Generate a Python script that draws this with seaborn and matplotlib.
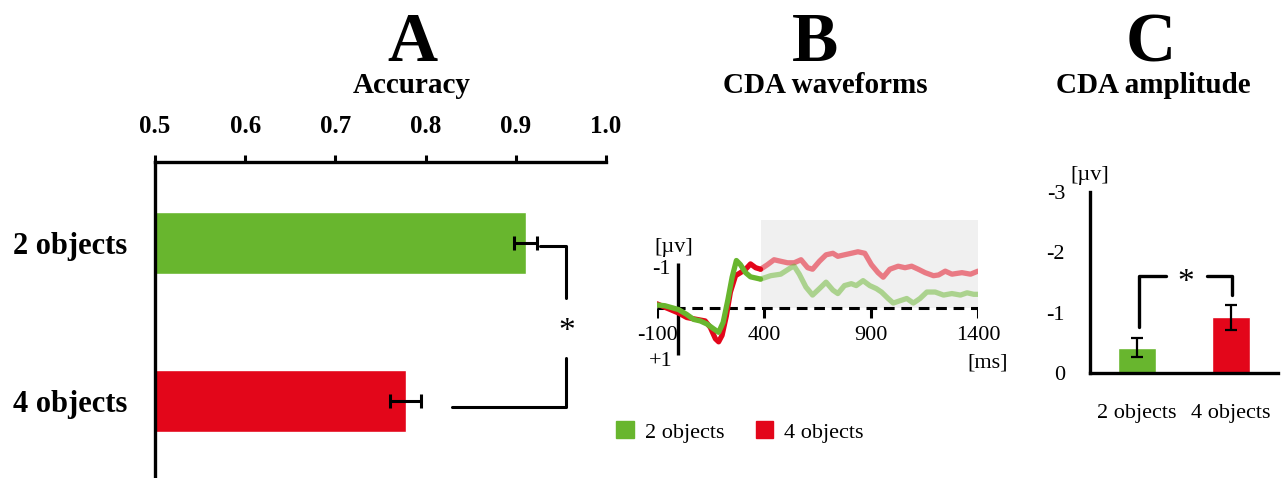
import matplotlib
matplotlib.use("Agg")
import matplotlib.pyplot as plt
import seaborn as sns
import pandas as pd
from matplotlib.patches import Patch

# --- datos ---
condiciones = ["2 objects", "4 objects"]
colores = ["#68b62e", "#e3061a"]

precision = [0.911, 0.778]
precision_err = [0.013, 0.017]
ticks_precision = [0.5, 0.6, 0.7, 0.8, 0.9, 1.0]

amplitud_cda = [-0.42, -0.92]
amplitud_err = [0.16, 0.20]
ticks_amplitud = [0, -1, -2, -3]

tiempo_2 = [-100, -63, 0, 39, 71, 102, 133, 165, 188, 209, 231, 251, 271, 290, 314, 337,
            384, 431, 478, 525, 541, 565, 596, 627, 659, 690, 722, 745, 776, 808, 831,
            863, 894, 925, 949, 980, 1004, 1035, 1067, 1098, 1129, 1161, 1200, 1239,
            1278, 1318, 1349, 1380, 1400]
onda_2 = [-0.08, -0.06, 0.04, 0.17, 0.30, 0.34, 0.42, 0.55, 0.64, 0.38, -0.21, -0.81,
          -1.25, -1.14, -0.93, -0.82, -0.76, -0.85, -0.89, -1.06, -1.10, -0.89, -0.55,
          -0.34, -0.51, -0.68, -0.47, -0.38, -0.59, -0.64, -0.59, -0.72, -0.59, -0.51,
          -0.42, -0.25, -0.13, -0.19, -0.25, -0.13, -0.25, -0.42, -0.42, -0.34, -0.38,
          -0.34, -0.40, -0.36, -0.36]
tiempo_4 = [-100, -55, 0, 39, 86, 125, 149, 173, 188, 204, 224, 243, 267, 290, 314, 337,
            361, 384, 416, 447, 478, 510, 541, 573, 604, 627, 659, 690, 722, 745, 776,
            808, 839, 871, 902, 933, 957, 988, 1027, 1059, 1090, 1121, 1153, 1192, 1216,
            1247, 1278, 1325, 1365, 1400]
onda_4 = [-0.11, 0.00, 0.13, 0.25, 0.30, 0.34, 0.51, 0.81, 0.89, 0.72, 0.21, -0.42,
          -0.85, -0.93, -1.02, -1.16, -1.06, -1.02, -1.14, -1.27, -1.23, -1.19, -1.19,
          -1.27, -1.06, -1.02, -1.23, -1.40, -1.44, -1.36, -1.40, -1.44, -1.48, -1.44,
          -1.14, -0.93, -0.81, -1.02, -1.10, -1.06, -1.10, -1.02, -0.93, -0.85, -0.87,
          -0.97, -0.89, -0.93, -0.89, -0.97]
ventana_cda = (384, 1400)
ticks_ms = [-100, 400, 900, 1400]

sns.set_style("white")
plt.rcParams["font.family"] = ["Liberation Serif", "DejaVu Serif"]
plt.rcParams["axes.unicode_minus"] = False
for clave in ["text.color", "axes.labelcolor", "xtick.color", "ytick.color"]:
    plt.rcParams[clave] = "black"

W, H = 1283, 478
fig = plt.figure(figsize=(W / 100, H / 100), dpi=100)


def caja(x0, y0, x1, y1):
    # pixeles de la imagen -> fracciones de la figura
    return [x0 / W, 1 - y1 / H, (x1 - x0) / W, (y1 - y0) / H]


def graficar_precision(ax):
    sns.barplot(x=precision, y=condiciones, hue=condiciones, palette=colores,
                orient="h", width=0.39, saturation=1, legend=False, ax=ax)
    ax.errorbar(precision, range(len(condiciones)), xerr=precision_err, fmt="none",
                ecolor="black", elinewidth=2.2, capsize=5, capthick=2.2)
    ax.set_xlim(0.5, 1.0)
    ax.set_ylim(1.487, -0.513)
    ax.xaxis.tick_top()
    ax.set_xticks(ticks_precision)
    ax.set_xticklabels([f"{t:.1f}" for t in ticks_precision])
    ax.set_xlabel("")
    ax.set_ylabel("")
    for lado in ["bottom", "right"]:
        ax.spines[lado].set_visible(False)
    for lado in ["top", "left"]:
        ax.spines[lado].set_linewidth(2.4)
        ax.spines[lado].set_color("black")
    ax.tick_params(axis="x", direction="out", length=5, width=2.2, pad=12, labelsize=18)
    ax.tick_params(axis="y", direction="out", length=7, width=2.2, pad=13, labelsize=22)
    for etiqueta in ax.get_xticklabels() + ax.get_yticklabels():
        etiqueta.set_fontweight("bold")

    # corchete de significancia
    ax.plot([0.927, 0.956, 0.956], [0.02, 0.02, 0.35], color="black", lw=2.2)
    ax.plot([0.956, 0.956, 0.829], [0.73, 1.04, 1.04], color="black", lw=2.2)
    ax.text(0.956, 0.56, "*", ha="center", va="center", fontsize=24)


def graficar_ondas(ax):
    datos = pd.concat([
        pd.DataFrame({"tiempo": tiempo_2, "amplitud": onda_2, "condicion": condiciones[0]}),
        pd.DataFrame({"tiempo": tiempo_4, "amplitud": onda_4, "condicion": condiciones[1]}),
    ])
    paleta = dict(zip(condiciones, colores))
    orden = condiciones[::-1]
    inicio = ventana_cda[0]

    ax.fill_between(list(ventana_cda), 0, -2.32, color="#f0f0f0", lw=0, zorder=0)
    ax.hlines(0, ticks_ms[0], ticks_ms[-1], colors="black", lw=2.2,
              linestyles=(0, (3.5, 2.2)), zorder=1)
    ax.vlines(ticks_ms, 0, 0.27, colors="black", lw=2.2)
    ax.vlines(0, -1.18, 1.24, colors="black", lw=2.4)

    tardio = datos[datos["tiempo"] >= inicio]
    temprano = datos[datos["tiempo"] <= inicio]
    sns.lineplot(data=tardio, x="tiempo", y="amplitud", hue="condicion", hue_order=orden,
                 palette=paleta, lw=3.8, alpha=0.5, legend=False, ax=ax)
    sns.lineplot(data=temprano, x="tiempo", y="amplitud", hue="condicion", hue_order=orden,
                 palette=paleta, lw=3.8, legend=False, ax=ax)
    for linea in ax.get_lines():
        linea.set_solid_joinstyle("round")
        linea.set_solid_capstyle("round")

    ax.set_xlim(-100, 1400)
    ax.set_ylim(1.3, -2.35)
    ax.axis("off")
    for t in ticks_ms:
        ax.text(t, 0.72, str(t), ha="center", va="center", fontsize=16)
    ax.text(-37, -1.0, "-1", ha="right", va="center", fontsize=16)
    ax.text(-28, 1.42, "+1", ha="right", va="center", fontsize=16)
    ax.text(-23, -1.6, "[µv]", ha="center", va="center", fontsize=16)
    ax.text(1444, 1.44, "[ms]", ha="center", va="center", fontsize=16)


def graficar_amplitud(ax):
    sns.barplot(x=condiciones, y=amplitud_cda, hue=condiciones, palette=colores,
                width=0.4, saturation=1, legend=False, ax=ax)
    ax.errorbar(range(len(condiciones)), amplitud_cda, yerr=amplitud_err, fmt="none",
                ecolor="black", elinewidth=1.6, capsize=4, capthick=1.6)
    ax.set_xlim(-0.5, 1.5)
    ax.set_ylim(0, -3)
    ax.set_yticks(ticks_amplitud)
    ax.set_yticklabels([str(t) for t in ticks_amplitud])
    ax.set_xticks([-0.5, 0.5, 1.5], minor=True)
    ax.set_xlabel("")
    ax.set_ylabel("")
    for lado in ["top", "right"]:
        ax.spines[lado].set_visible(False)
    for lado in ["bottom", "left"]:
        ax.spines[lado].set_linewidth(2.4)
        ax.spines[lado].set_color("black")
    ax.tick_params(axis="x", which="major", length=0, pad=22, labelsize=16)
    ax.tick_params(axis="x", which="minor", direction="out", length=5, width=2.2)
    ax.tick_params(axis="y", direction="out", length=6, width=2.2, pad=12, labelsize=16)
    ax.text(-0.5, -3.28, "[µv]", ha="center", va="center", fontsize=16)

    ax.plot([0.02, 0.02, 0.31], [-0.77, -1.6, -1.6], color="black", lw=2.4)
    ax.plot([0.74, 1.01, 1.01], [-1.6, -1.6, -1.3], color="black", lw=2.4)
    ax.text(0.52, -1.5, "*", ha="center", va="center", fontsize=24)


ax_a = fig.add_axes(caja(155, 162, 606, 478))
ax_b = fig.add_axes(caja(657, 218.7, 978, 357.4))
ax_c = fig.add_axes(caja(1090, 192, 1278, 373))

graficar_precision(ax_a)
graficar_ondas(ax_b)
graficar_amplitud(ax_c)

# titulos de los paneles
for letra, x_letra, titulo, x_titulo in [("A", 412, "Accuracy", 412),
                                         ("B", 815, "CDA waveforms", 825),
                                         ("C", 1151, "CDA amplitude", 1153)]:
    fig.text(x_letra / W, 1 - 61 / H, letra, ha="center", va="baseline",
             fontsize=50, fontweight="bold")
    fig.text(x_titulo / W, 1 - 93 / H, titulo, ha="center", va="baseline",
             fontsize=21, fontweight="bold")

manijas = [Patch(facecolor=c, edgecolor=c, label=n) for c, n in zip(colores, condiciones)]
fig.legend(handles=manijas, loc="center left", bbox_to_anchor=(616 / W, 1 - 432 / H),
           ncol=2, frameon=False, fontsize=16, handlelength=0.8, handleheight=0.8,
           handletextpad=0.5, columnspacing=1.4, borderpad=0, borderaxespad=0)

fig.savefig("out.png", dpi=100)
plt.close(fig)
